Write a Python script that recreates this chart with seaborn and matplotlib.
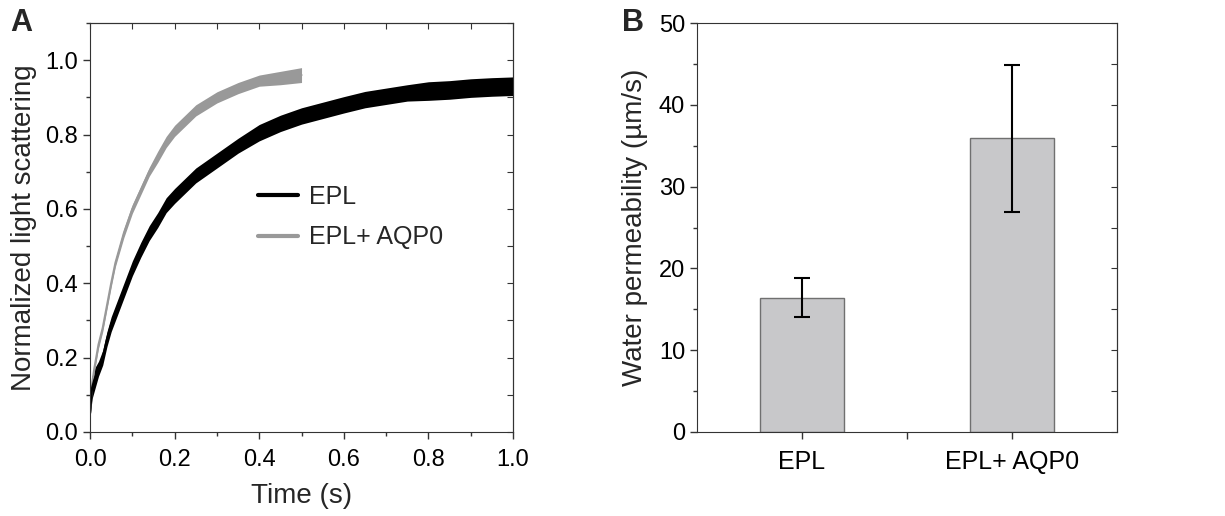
import numpy as np
import pandas as pd
import matplotlib
matplotlib.use("Agg")
import matplotlib.pyplot as plt
from matplotlib.ticker import MultipleLocator
import seaborn as sns

# Panel A: light scattering traces
time_epl = [0.0, 0.005, 0.01, 0.02, 0.03, 0.04, 0.05, 0.06, 0.08, 0.10, 0.12, 0.14,
            0.16, 0.18, 0.20, 0.25, 0.30, 0.35, 0.40, 0.45, 0.50, 0.55, 0.60,
            0.65, 0.70, 0.75, 0.80, 0.85, 0.90, 0.95, 1.0]
scatter_epl = [0.05, 0.12, 0.14, 0.17, 0.20, 0.25, 0.29, 0.32, 0.38, 0.44, 0.49, 0.535,
               0.57, 0.61, 0.635, 0.69, 0.73, 0.77, 0.805, 0.83, 0.85, 0.865, 0.88,
               0.894, 0.903, 0.912, 0.917, 0.92, 0.925, 0.928, 0.93]
noise_epl = [0.01, 0.03, 0.03, 0.02, 0.02, 0.02, 0.02, 0.02, 0.02, 0.02, 0.02, 0.02,
             0.02, 0.02, 0.02, 0.02, 0.02, 0.02, 0.022, 0.022, 0.022, 0.022, 0.022,
             0.022, 0.022, 0.022, 0.025, 0.025, 0.025, 0.025, 0.025]

time_aqp = [0.0, 0.005, 0.01, 0.02, 0.03, 0.04, 0.05, 0.06, 0.08, 0.10, 0.12, 0.14,
            0.16, 0.18, 0.20, 0.25, 0.30, 0.35, 0.40, 0.45, 0.50]
scatter_aqp = [0.05, 0.13, 0.17, 0.235, 0.28, 0.34, 0.40, 0.455, 0.535, 0.60, 0.65, 0.70,
               0.74, 0.78, 0.81, 0.865, 0.90, 0.925, 0.945, 0.952, 0.96]
noise_aqp = [0.005, 0.01, 0.01, 0.01, 0.01, 0.01, 0.01, 0.01, 0.012, 0.012, 0.012, 0.012,
             0.015, 0.015, 0.015, 0.015, 0.015, 0.015, 0.015, 0.018, 0.02]

# Panel B: water permeability
groups = ["EPL", "EPL+ AQP0"]
perm_mean = [16.4, 35.9]
perm_err = [2.4, 9.0]

sns.set_style("ticks")
plt.rcParams["font.family"] = ["Liberation Sans", "DejaVu Sans"]
plt.rcParams["axes.edgecolor"] = "#333333"
plt.rcParams["xtick.color"] = "#333333"
plt.rcParams["ytick.color"] = "#333333"
plt.rcParams["xtick.labelcolor"] = "black"
plt.rcParams["ytick.labelcolor"] = "black"

fig = plt.figure(figsize=(12.25, 5.16), dpi=100)
ax1 = fig.add_axes([0.0735, 0.1628, 0.3453, 0.7926])
ax2 = fig.add_axes([0.569, 0.1628, 0.3428, 0.7926])

# ---- Panel A ----
df_epl = pd.DataFrame({"t": time_epl, "y": scatter_epl})
df_aqp = pd.DataFrame({"t": time_aqp, "y": scatter_aqp})
ax1.fill_between(time_epl, np.array(scatter_epl) - np.array(noise_epl),
                 np.array(scatter_epl) + np.array(noise_epl), color="black", lw=0)
ax1.fill_between(time_aqp, np.array(scatter_aqp) - np.array(noise_aqp),
                 np.array(scatter_aqp) + np.array(noise_aqp), color="#999999", lw=0)
sns.lineplot(data=df_aqp, x="t", y="y", ax=ax1, color="#999999", lw=1.5, label="EPL+ AQP0")
sns.lineplot(data=df_epl, x="t", y="y", ax=ax1, color="black", lw=1.5, label="EPL")

ax1.set_xlim(0, 1.0)
ax1.set_ylim(0, 1.1)
ax1.xaxis.set_major_locator(MultipleLocator(0.2))
ax1.xaxis.set_minor_locator(MultipleLocator(0.1))
ax1.yaxis.set_major_locator(MultipleLocator(0.2))
ax1.yaxis.set_minor_locator(MultipleLocator(0.1))
ax1.set_xticklabels([f"{v:.1f}" for v in ax1.get_xticks()])
ax1.set_yticklabels([f"{v:.1f}" for v in ax1.get_yticks()])
ax1.tick_params(which="major", direction="out", length=5, width=1, labelsize=17)
ax1.tick_params(axis="x", which="major", pad=7)
ax1.tick_params(which="minor", direction="out", length=3, width=1)
ax1.set_xlabel("Time (s)", fontsize=20, labelpad=9)
ax1.set_ylabel("Normalized light scattering", fontsize=20, labelpad=6)

sec_r = ax1.secondary_yaxis("right")
sec_r.yaxis.set_major_locator(MultipleLocator(0.1))
sec_r.tick_params(direction="in", length=4, labelright=False)
sec_t = ax1.secondary_xaxis("top")
sec_t.xaxis.set_major_locator(MultipleLocator(0.1))
sec_t.tick_params(direction="in", length=4, labeltop=False)

handles, labels = ax1.get_legend_handles_labels()
order = [labels.index("EPL"), labels.index("EPL+ AQP0")]
leg = ax1.legend([handles[i] for i in order], [labels[i] for i in order],
                 loc="upper left", bbox_to_anchor=(0.373, 0.628), frameon=False,
                 fontsize=18, handlelength=1.6, handletextpad=0.45, labelspacing=0.65,
                 borderaxespad=0)
for line in leg.get_lines():
    line.set_linewidth(3)

fig.text(0.008, 0.985, "A", fontsize=22, fontweight="bold", va="top")

# ---- Panel B ----
df_b = pd.DataFrame({"group": groups, "perm": perm_mean})
sns.barplot(data=df_b, x="group", y="perm", ax=ax2, color="#c8c8ca", width=0.4,
            edgecolor="#707070", linewidth=1, saturation=1)
ax2.errorbar(range(len(groups)), perm_mean, yerr=perm_err, fmt="none",
             ecolor="black", elinewidth=1.5, capsize=6, capthick=1.5)
ax2.set_xlim(-0.5, 1.5)
ax2.set_ylim(0, 50)
ax2.yaxis.set_major_locator(MultipleLocator(10))
ax2.yaxis.set_minor_locator(MultipleLocator(5))
ax2.set_xticks([0, 0.5, 1], minor=False)
ax2.set_xticklabels(["EPL", "", "EPL+ AQP0"])
ax2.tick_params(axis="x", which="major", direction="out", length=5, width=1, labelsize=18, pad=8)
ax2.tick_params(axis="y", which="major", direction="out", length=5, width=1, labelsize=17)
ax2.tick_params(axis="y", which="minor", direction="out", length=3, width=1)
ax2.set_xlabel("")
ax2.set_ylabel("Water permeability (\u00b5m/s)", fontsize=20, labelpad=8)

sec_r2 = ax2.secondary_yaxis("right")
sec_r2.yaxis.set_major_locator(MultipleLocator(5))
sec_r2.tick_params(direction="in", length=4, labelright=False)

fig.text(0.508, 0.985, "B", fontsize=22, fontweight="bold", va="top")

fig.savefig("out.png", dpi=100)
